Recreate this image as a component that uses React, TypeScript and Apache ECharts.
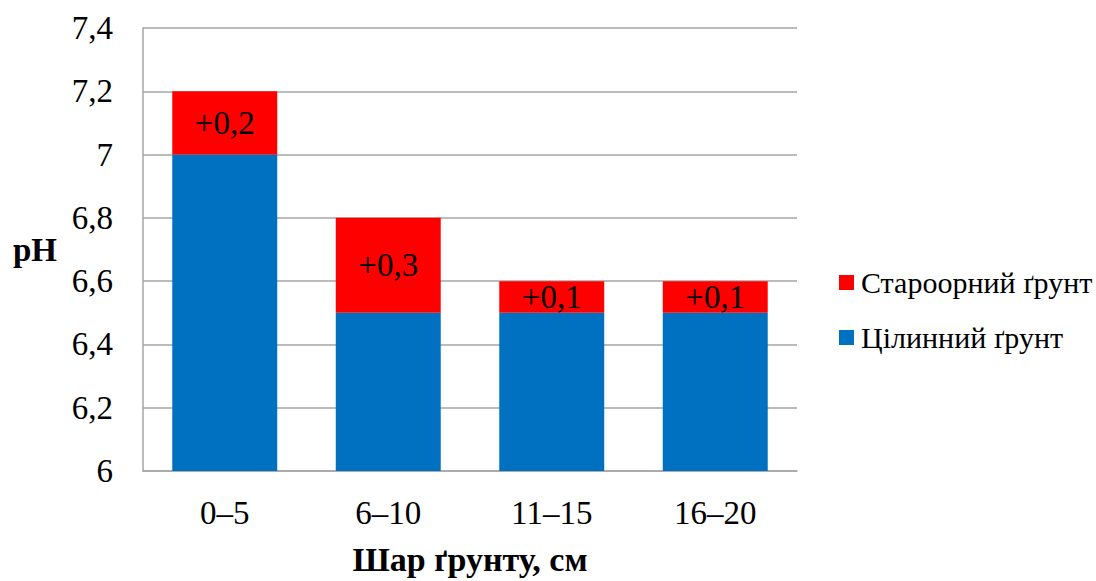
import React, { useEffect, useRef } from "react";
import * as echarts from "echarts";

const categories = ["0–5", "6–10", "11–15", "16–20"];
const virginSoil = [7.0, 6.5, 6.5, 6.5];
const oldArable = [0.2, 0.3, 0.1, 0.1];
const oldArableLabels = ["+0,2", "+0,3", "+0,1", "+0,1"];
const yTicks = [6, 6.2, 6.4, 6.6, 6.8, 7, 7.2, 7.4];
const yTickLabels = ["6", "6,2", "6,4", "6,6", "6,8", "7", "7,2", "7,4"];
const legendNames = ["Староорний ґрунт", "Цілинний ґрунт"];
const legendColors = ["#FF0000", "#0070C0"];

const FONT = "Liberation Serif";

export default function App() {
  const ref = useRef<HTMLDivElement>(null);
  useEffect(() => {
    const chart = echarts.init(ref.current!, null, { renderer: "svg" });
    chart.setOption({
      animation: false,
      backgroundColor: "#ffffff",
      grid: { left: 143, right: 299, top: 28, bottom: 108, containLabel: false },
      xAxis: {
        type: "category",
        data: categories,
        name: "Шар ґрунту, см",
        nameLocation: "middle",
        nameGap: 71,
        nameTextStyle: { fontFamily: FONT, fontSize: 34, fontWeight: "bold", color: "#000" },
        axisLine: { show: true, lineStyle: { color: "#a6a6a6", width: 1.5 } },
        axisTick: { show: false },
        axisLabel: { show: false },
      },
      yAxis: {
        type: "value",
        min: 6,
        max: 7.4,
        interval: 0.2,
        name: "pH",
        nameLocation: "middle",
        nameRotate: 0,
        nameGap: 86,
        nameTextStyle: { fontFamily: FONT, fontSize: 33, fontWeight: "bold", color: "#000" },
        axisLine: { show: true, lineStyle: { color: "#a6a6a6", width: 1.5 } },
        axisTick: { show: false },
        splitLine: { lineStyle: { color: "#a6a6a6", width: 1.5 } },
        axisLabel: { show: false },
      },
      series: [
        {
          name: legendNames[1],
          type: "bar",
          stack: "ph",
          barWidth: "64.2%",
          data: virginSoil,
          itemStyle: { color: legendColors[1] },
        },
        {
          name: legendNames[0],
          type: "bar",
          stack: "ph",
          barWidth: "64.2%",
          data: oldArable,
          itemStyle: { color: legendColors[0] },
        },
      ],
    });

    const graphic: any[] = [];
    const toPx = (c: number, v: number) =>
      chart.convertToPixel({ gridIndex: 0 } as any, [c, v]) as number[];

    const txt = (text: string, x: number, y: number, size: number, align: string, valign: string) => ({
      type: "text",
      x,
      y,
      z: 100,
      silent: true,
      style: {
        text,
        fontFamily: FONT,
        fontSize: size,
        fontWeight: 500,
        fill: "#000",
        align,
        verticalAlign: valign,
      },
    });

    yTicks.forEach((v, i) => {
      const p = toPx(0, v);
      if (p) graphic.push(txt(yTickLabels[i], 113, p[1], 33, "right", "middle"));
    });
    categories.forEach((c, i) => {
      const p = toPx(i, 6);
      if (p) graphic.push(txt(c, p[0], p[1] + 25, 33, "center", "top"));
    });
    oldArable.forEach((d, i) => {
      const p = toPx(i, virginSoil[i] + d / 2);
      if (p) graphic.push(txt(oldArableLabels[i], p[0], p[1], 33, "center", "middle"));
    });
    legendNames.forEach((name, i) => {
      const cy = 282.5 + i * 55;
      graphic.push({
        type: "rect",
        z: 100,
        silent: true,
        shape: { x: 839, y: cy - 7.5, width: 15, height: 15 },
        style: { fill: legendColors[i] },
      });
      graphic.push(txt(name, 861, cy, 30, "left", "middle"));
    });

    chart.setOption({ graphic });
    return () => chart.dispose();
  }, []);
  return (
    <div
      ref={ref}
      style={{ position: "fixed", left: 0, top: 0, width: 1096, height: 581 }}
    />
  );
}
